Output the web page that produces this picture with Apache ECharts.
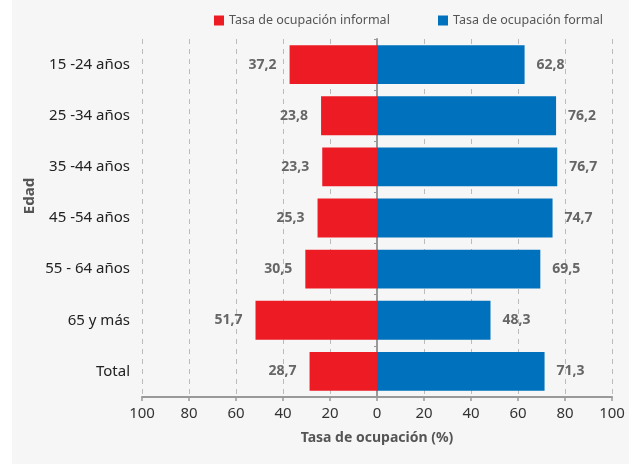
<!DOCTYPE html>
<html><head><meta charset="utf-8">
<script src="https://cdn.jsdelivr.net/npm/echarts@6/dist/echarts.min.js"></script>
<style>html,body{margin:0;padding:0;background:#fff}#c{width:629px;height:464px}</style>
</head><body><div id="c"></div>
<script>
const categories = ['15 -24 años','25 -34 años','35 -44 años','45 -54 años','55 - 64 años','65 y más','Total'];
const informal = [37.2, 23.8, 23.3, 25.3, 30.5, 51.7, 28.7];
const formal = [62.8, 76.2, 76.7, 74.7, 69.5, 48.3, 71.3];
const xTicks = [-100,-80,-60,-40,-20,0,20,40,60,80,100];

const FONT = 'Noto Sans';
const fmt = v => Math.abs(v).toFixed(1).replace('.', ',');
const legendBase = {top: 9, itemWidth: 10, itemHeight: 10, icon: 'rect',
  textStyle: {fontFamily: FONT, fontSize: 12.5, color: '#555'}};
const chart = echarts.init(document.getElementById('c'));
chart.setOption({
  backgroundColor: '#f6f6f6',
  textStyle: {fontFamily: FONT},
  graphic: [
    {type:'rect', left:0, top:0, shape:{width:12, height:464}, style:{fill:'#fff'}, silent:true},
    {type:'text', x: 30, y: 196, rotation: Math.PI/2,
      style:{text:'Edad', fontFamily: FONT, fontSize: 15, fontWeight: 'bold', fill: '#555',
        align: 'center', verticalAlign: 'middle'}}
  ],
  legend: [
    Object.assign({left: 209, data: ['Tasa de ocupación informal']}, legendBase),
    Object.assign({left: 433, data: ['Tasa de ocupación formal']}, legendBase)
  ],
  grid: {left: 142, right: 17, top: 39, bottom: 67},
  xAxis: {
    type: 'value', min: xTicks[0], max: xTicks[xTicks.length-1], interval: 20,
    axisLine: {show: true, lineStyle: {color: '#999', width: 2}},
    axisTick: {show: true, length: 4, lineStyle: {color: '#999', width: 1.5}},
    axisLabel: {formatter: v => String(Math.abs(v)), fontSize: 15, color: '#333', margin: 9, fontFamily: FONT},
    splitLine: {show: true, lineStyle: {color: '#bbb', type: [5, 5], width: 1}},
    name: 'Tasa de ocupación (%)', nameLocation: 'middle', nameGap: 34,
    nameTextStyle: {fontSize: 14, fontWeight: 'bold', color: '#555', fontFamily: FONT}
  },
  yAxis: [{
    type: 'category', data: categories, inverse: true, position: 'left',
    axisLine: {show: false, onZero: false}, axisTick: {show: false},
    axisLabel: {fontSize: 15, color: '#222', margin: 12, fontFamily: FONT}
  }, {
    type: 'category', data: categories, inverse: true, position: 'left',
    axisLine: {show: true, onZero: true, lineStyle: {color: '#999', width: 2}},
    axisTick: {show: true, length: 3, lineStyle: {color: '#999'}},
    axisLabel: {show: false}
  }],
  series: [{
    name: 'Tasa de ocupación informal', type: 'bar', stack: 'a', barWidth: '76%',
    data: informal.map(v => -v),
    itemStyle: {color: '#ed1c24'},
    label: {show: true, position: 'left', distance: 13, formatter: p => fmt(p.value),
      fontSize: 14, fontWeight: 'bold', color: '#666', fontFamily: FONT}
  }, {
    name: 'Tasa de ocupación formal', type: 'bar', stack: 'a', barWidth: '76%',
    data: formal,
    itemStyle: {color: '#0071bc'},
    label: {show: true, position: 'right', distance: 12, formatter: p => fmt(p.value),
      fontSize: 14, fontWeight: 'bold', color: '#666', fontFamily: FONT}
  }]
});
</script></body></html>
